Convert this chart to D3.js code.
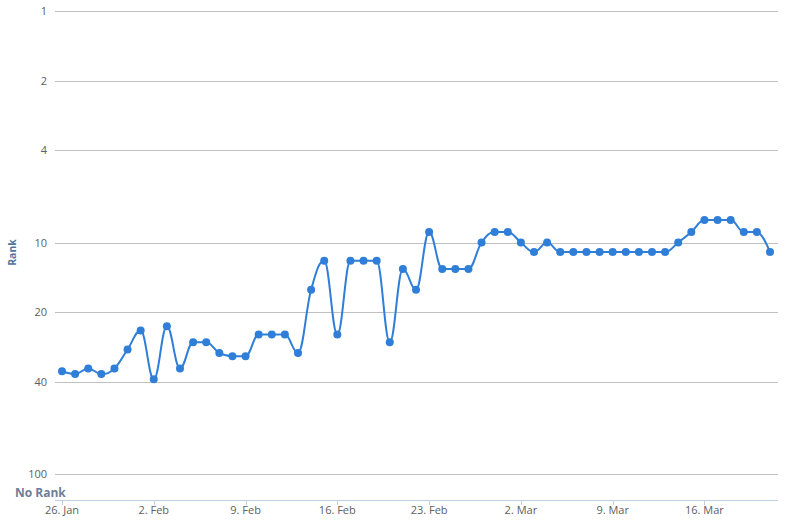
<!DOCTYPE html>
<html>
<head>
<meta charset="utf-8">
<script src="https://cdn.jsdelivr.net/npm/d3@7"></script>
<style>
  html, body { margin: 0; padding: 0; background: #fff; }
  svg { display: block; font-family: "Open Sans", "DejaVu Sans", sans-serif; }
</style>
</head>
<body>
<svg id="chart" width="811" height="522"></svg>
<script>
// ---- data ----
const startDate = "2014-01-26";
const ranks = [
  36, 37, 35, 37, 35, 29, 24, 39, 23, 35,
  27, 27, 30, 31, 31, 25, 25, 25, 30, 16,
  12, 25, 12, 12, 12, 27, 13, 16, 9, 13,
  13, 13, 10, 9, 9, 10, 11, 10, 11, 11,
  11, 11, 11, 11, 11, 11, 11, 10, 9, 8,
  8, 8, 9, 9, 11
];
const yTicks = [1, 2, 4, 10, 20, 40, 100];
const xTickDates = ["2014-01-26", "2014-02-02", "2014-02-09", "2014-02-16", "2014-02-23", "2014-03-02", "2014-03-09", "2014-03-16"];
const yTitle = "Rank";
const noRankLabel = "No Rank";

// ---- build ----
const parse = d3.utcParse("%Y-%m-%d");
const t0 = parse(startDate);
const data = ranks.map((r, i) => ({ date: d3.utcDay.offset(t0, i), rank: r }));

const svg = d3.select("#chart");
const plotLeft = 55, plotRight = 778, plotBottom = 500;

const x = d3.scaleUtc()
  .domain([data[0].date, data[data.length - 1].date])
  .range([62, 770]);
const y = d3.scaleLog()
  .domain([1, 100])
  .range([11, 474]);

// gridlines
svg.append("g").selectAll("line").data(yTicks).join("line")
  .attr("x1", plotLeft).attr("x2", plotRight)
  .attr("y1", d => Math.round(y(d)) + 0.5).attr("y2", d => Math.round(y(d)) + 0.5)
  .attr("stroke", "#C0C0C0").attr("stroke-width", 1);

// y labels
svg.append("g").selectAll("text").data(yTicks).join("text")
  .attr("x", 47).attr("y", d => y(d) + 4)
  .attr("text-anchor", "end")
  .attr("font-size", 11).attr("fill", "#606060")
  .text(d => d);

// no rank label
svg.append("text")
  .attr("x", 15).attr("y", 496.5)
  .attr("font-size", 12).attr("font-weight", "bold")
  .attr("fill", "#6e7f97")
  .text(noRankLabel);

// y title
svg.append("text")
  .attr("transform", "translate(16,252.5) rotate(-90)")
  .attr("text-anchor", "middle")
  .attr("font-size", 10.5).attr("font-weight", "bold")
  .attr("fill", "#4d759e")
  .text(yTitle);

// x axis
svg.append("line")
  .attr("x1", plotLeft).attr("x2", plotRight)
  .attr("y1", plotBottom + 0.5).attr("y2", plotBottom + 0.5)
  .attr("stroke", "#C0D0E0").attr("stroke-width", 1);
const xt = xTickDates.map(parse);
const fmt = d3.utcFormat("%-d. %b");
const xg = svg.append("g");
xg.selectAll("line").data(xt).join("line")
  .attr("x1", d => Math.round(x(d)) + 0.5).attr("x2", d => Math.round(x(d)) + 0.5)
  .attr("y1", plotBottom).attr("y2", plotBottom + 5)
  .attr("stroke", "#C0D0E0");
xg.selectAll("text").data(xt).join("text")
  .attr("x", d => x(d)).attr("y", 514)
  .attr("text-anchor", "middle")
  .attr("font-size", 11).attr("fill", "#606060")
  .text(d => fmt(d));

// Highcharts-style spline path
function splinePath(pts) {
  const sm = 1.5, den = sm + 1;
  const rc = [];
  let p = "";
  pts.forEach((pt, i) => {
    const [px, py] = pt;
    if (i === 0) { p += `M${px},${py}`; rc[i] = null; return; }
    let lcx = px, lcy = py;
    if (i < pts.length - 1) {
      const [lx, ly] = pts[i - 1], [nx, ny] = pts[i + 1];
      lcx = (sm * px + lx) / den; lcy = (sm * py + ly) / den;
      let rcx = (sm * px + nx) / den, rcy = (sm * py + ny) / den;
      let corr = 0;
      if (rcx !== lcx) corr = ((rcy - lcy) * (rcx - px)) / (rcx - lcx) + py - rcy;
      lcy += corr; rcy += corr;
      if (lcy > ly && lcy > py) { lcy = Math.max(ly, py); rcy = 2 * py - lcy; }
      else if (lcy < ly && lcy < py) { lcy = Math.min(ly, py); rcy = 2 * py - lcy; }
      if (rcy > ny && rcy > py) { rcy = Math.max(ny, py); lcy = 2 * py - rcy; }
      else if (rcy < ny && rcy < py) { rcy = Math.min(ny, py); lcy = 2 * py - rcy; }
      rc[i] = [rcx, rcy];
    } else rc[i] = null;
    const prev = rc[i - 1] || pts[i - 1];
    p += `C${prev[0]},${prev[1]} ${lcx},${lcy} ${px},${py}`;
  });
  return p;
}

const pts = data.map(d => [x(d.date), y(d.rank)]);
svg.append("path")
  .attr("d", splinePath(pts))
  .attr("fill", "none")
  .attr("stroke", "#2f7ed8")
  .attr("stroke-width", 2)
  .attr("stroke-linejoin", "round");

svg.append("g").selectAll("circle").data(data).join("circle")
  .attr("cx", d => x(d.date)).attr("cy", d => y(d.rank))
  .attr("r", 4)
  .attr("fill", "#2f7ed8");
</script>
</body>
</html>
